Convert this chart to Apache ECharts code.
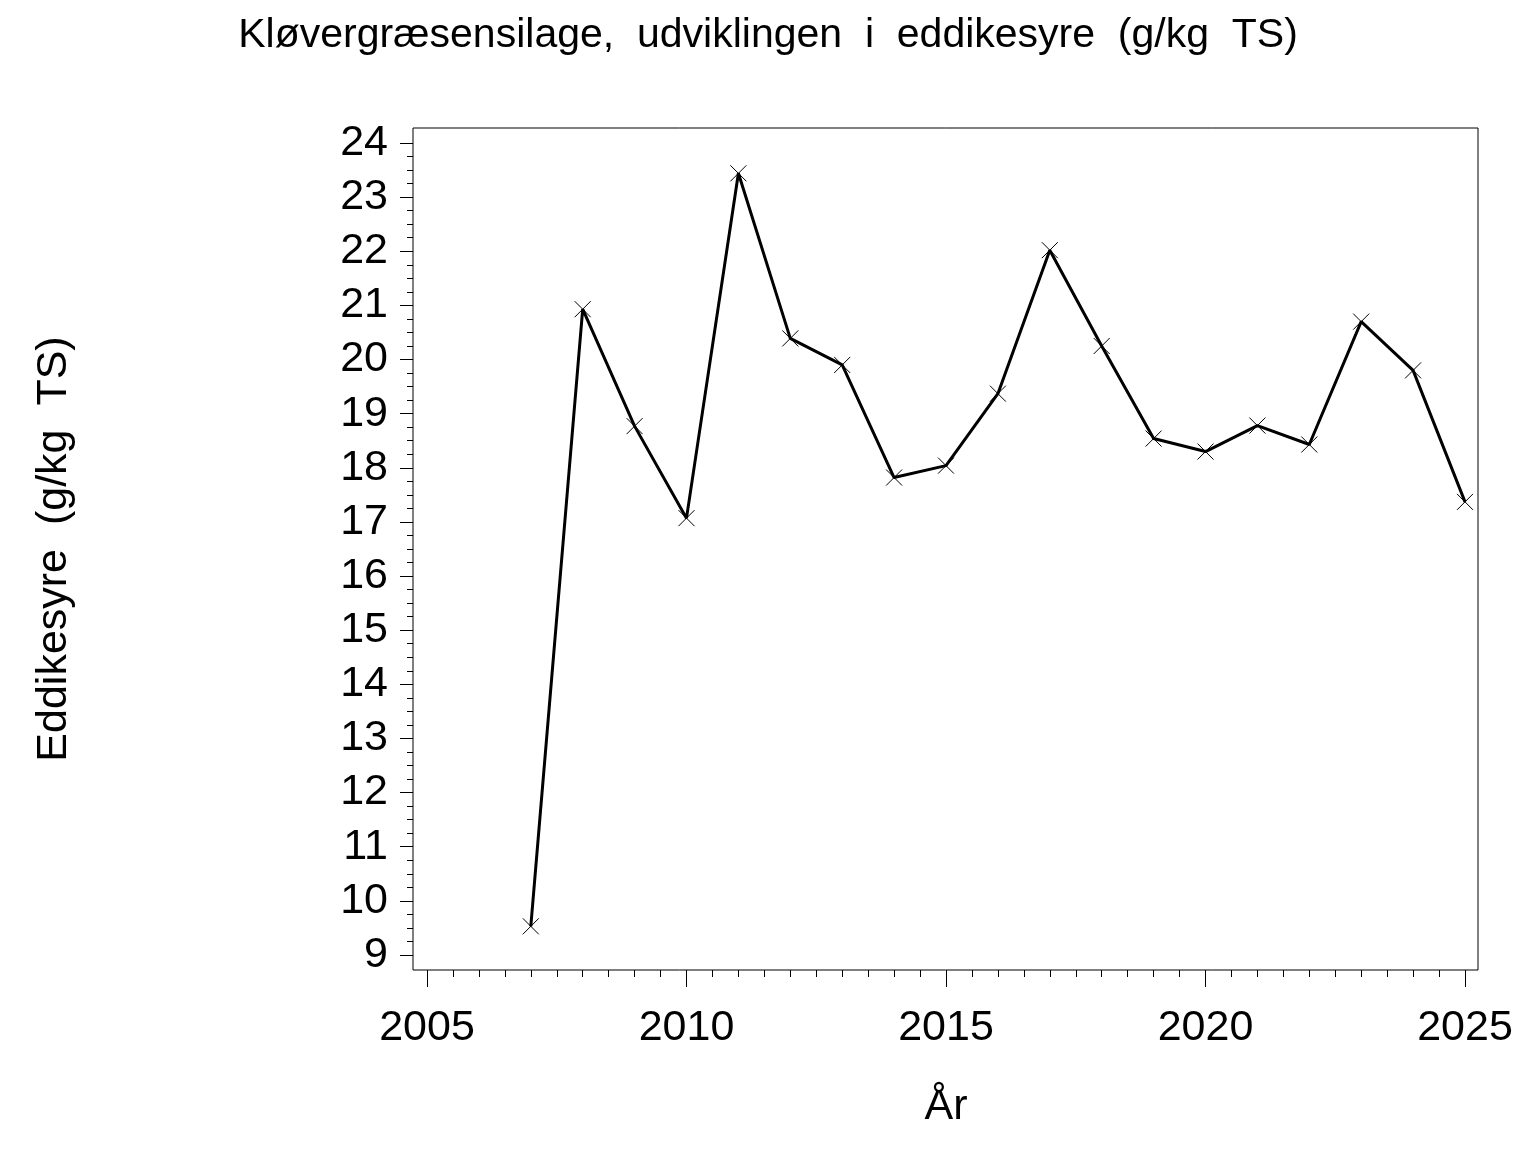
<!DOCTYPE html>
<html>
<head>
<meta charset="utf-8">
<script src="https://cdn.jsdelivr.net/npm/echarts@6/dist/echarts.min.js"></script>
<style>
html,body{margin:0;padding:0;background:#fff;}
#main{width:1536px;height:1152px;}
</style>
</head>
<body>
<div id="main"></div>
<script>
const years = [2007,2008,2009,2010,2011,2012,2013,2014,2015,2016,2017,2018,2019,2020,2021,2022,2023,2024,2025];
const eddikesyre = [9.53,20.93,18.77,17.07,23.44,20.39,19.90,17.82,18.04,19.37,22.02,20.25,18.54,18.30,18.78,18.43,20.70,19.80,17.37];
const titleText = 'Kløvergræsensilage,  udviklingen  i  eddikesyre  (g/kg  TS)';
const yName = 'Eddikesyre  (g/kg  TS)';
const xName = 'År';

const FONT = "'Liberation Sans', Arial, Helvetica, sans-serif";
const chart = echarts.init(document.getElementById('main'), null, {renderer:'canvas'});
const seriesData = years.map((y,i)=>[y, eddikesyre[i]]);

chart.setOption({
  animation:false,
  backgroundColor:'#fff',
  title:{
    text:titleText, left:'center', top:10,
    textStyle:{fontFamily:FONT, fontSize:41, fontWeight:'normal', color:'#000'}
  },
  grid:[
    {left:427, right:71, top:143, bottom:197, show:false},
    {left:413, right:58, top:128, bottom:182, show:true, borderColor:'#000', borderWidth:1, backgroundColor:'transparent'}
  ],
  xAxis:[
    {
      type:'value', gridIndex:0, min:2005, max:2025, interval:5, position:'bottom', offset:15,
      name:xName, nameLocation:'middle', nameGap:116,
      nameTextStyle:{fontFamily:FONT, fontSize:43, color:'#000'},
      axisLine:{show:false},
      axisTick:{show:true, length:17, inside:false, lineStyle:{color:'#000', width:1}},
      minorTick:{show:true, splitNumber:10, length:7, lineStyle:{color:'#000', width:1}},
      axisLabel:{fontFamily:FONT, fontSize:43, color:'#000', margin:37, formatter:v=>String(v)},
      splitLine:{show:false}
    },
    {type:'value', gridIndex:1, show:false, min:0, max:1}
  ],
  yAxis:[
    {
      type:'value', gridIndex:0, min:9, max:24, interval:1, position:'left', offset:14,
      name:yName, nameLocation:'middle', nameGap:337, nameRotate:90,
      nameTextStyle:{fontFamily:FONT, fontSize:43, color:'#000'},
      axisLine:{show:false},
      axisTick:{show:true, length:13, inside:false, lineStyle:{color:'#000', width:1}},
      minorTick:{show:true, splitNumber:4, length:6, lineStyle:{color:'#000', width:1}},
      axisLabel:{fontFamily:FONT, fontSize:43, color:'#000', margin:25},
      splitLine:{show:false}
    },
    {type:'value', gridIndex:1, show:false, min:0, max:1}
  ],
  series:[{
    type:'line', xAxisIndex:0, yAxisIndex:0,
    data:seriesData,
    symbol:'path://M0,0L10,10M10,0L0,10',
    symbolSize:16,
    showAllSymbol:true,
    itemStyle:{color:'transparent', borderColor:'#000', borderWidth:1},
    lineStyle:{color:'#000', width:3},
    z:3
  }]
});
</script>
</body>
</html>
